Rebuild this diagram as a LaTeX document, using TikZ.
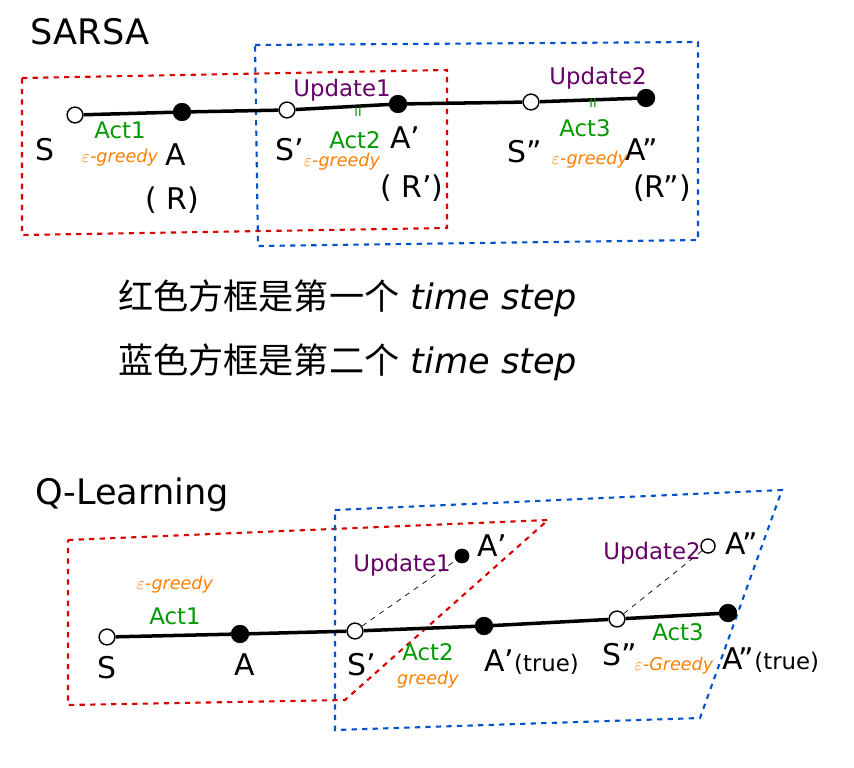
\documentclass[tikz,border=0pt]{standalone}
\usepackage{fontspec}
\setmainfont{DejaVu Sans}
\newfontfamily\cjk{Noto Sans CJK SC}
\usepackage{xcolor}
\colorlet{colorAct}{green!60!black}
\colorlet{colorGreedy}{orange}
\colorlet{colorUpdate}{violet!80!black}
\colorlet{colorRed}{red!85!black}
\colorlet{colorBlue}{blue!60!cyan!80!black}
\usetikzlibrary{positioning}
\tikzset{
  open/.style={circle, draw, thick, fill=white, inner sep=0pt, minimum size=9pt},
  full/.style={circle, draw, fill=black, inner sep=0pt, minimum size=10pt},
  lbl/.style={font=\fontsize{17}{17}\selectfont},
  act/.style={text=colorAct, font=\fontsize{13}{13}\selectfont},
  greedy/.style={text=colorGreedy, font=\fontsize{10}{10}\selectfont\itshape},
  upd/.style={text=colorUpdate, font=\fontsize{13}{13}\selectfont},
  redbox/.style={colorRed, line width=1.2pt, dashed},
  bluebox/.style={colorBlue, line width=1.2pt, dashed},
  chain/.style={line width=2pt},
}
\begin{document}
\begin{tikzpicture}[x=0.02cm, y=-0.02cm]
\useasboundingbox (0,0) rectangle (854,767);
% SARSA
\node[font=\fontsize{20}{20}\selectfont] (t1) at (90,32) {SARSA};
\draw[redbox] (22,78) -- (447,70) -- (447,228) -- (22,235) -- cycle;
\draw[bluebox] (255,45) -- (698,42) -- (698,240) -- (258,246) -- cycle;
\node[open] (s) at (75,115) {};
\node[full] (a) at (182,112) {};
\node[open] (s1) at (287,110) {};
\node[full] (a1) at (398,104) {};
\node[open] (s2) at (531,102) {};
\node[full] (a2) at (646,98) {};
\draw[chain] (s) -- (a) -- (s1) -- (a1) -- (s2) -- (a2);
\node[lbl] (ls) at (45,150) {S};
\node[lbl] (la) at (176,155) {A};
\node[lbl] (lr) at (172,200) {( R)};
\node[lbl] (ls1) at (290,150) {S'};
\node[lbl] (la1) at (405,138) {A'};
\node[lbl] (lr1) at (412,188) {( R')};
\node[lbl] (ls2) at (525,152) {S''};
\node[lbl] (la2) at (642,150) {A''};
\node[lbl] (lr2) at (662,188) {(R'')};
\node[act] (act1) at (120,130) {Act1};
\node[greedy] (g1) at (120,158) {$\varepsilon$-greedy};
\node[act] (act2) at (355,140) {Act2};
\node[greedy] (g2) at (342,162) {$\varepsilon$-greedy};
\node[act] (act3) at (585,128) {Act3};
\node[greedy] (g3) at (590,160) {$\varepsilon$-greedy};
\node[upd] (u1) at (342,90) {Update1};
\node[upd] (u2) at (598,78) {Update2};
\node[text=colorAct, font=\scriptsize] (e1) at (358,112) {II};
\node[text=colorAct, font=\scriptsize] (e2) at (593,103) {II};
% legend
\node[anchor=west, font=\fontsize{20}{20}\selectfont] (note1) at (112,298) {{\cjk 红色方框是第一个} \itshape time step};
\node[anchor=west, font=\fontsize{20}{20}\selectfont] (note2) at (112,362) {{\cjk 蓝色方框是第二个} \itshape time step};
% Q-Learning
\node[font=\fontsize{20}{20}\selectfont] (t2) at (132,495) {Q-Learning};
\draw[redbox] (68,540) -- (548,520) -- (345,700) -- (68,705) -- cycle;
\draw[bluebox] (335,510) -- (782,490) -- (700,718) -- (335,730) -- cycle;
\node[open] (qs) at (107,637) {};
\node[full] (qa) at (240,634) {};
\node[open] (qs1) at (355,631) {};
\node[full] (qa1) at (484,626) {};
\node[open] (qs2) at (617,619) {};
\node[full] (qa2) at (728,613) {};
\node[full, minimum size=8pt] (qb1) at (462,556) {};
\node[open, minimum size=8pt] (qb2) at (708,546) {};
\draw[chain] (qs) -- (qa) -- (qs1) -- (qa1) -- (qs2) -- (qa2);
\draw[dashed] (qs1) -- (qb1);
\draw[dashed] (qs2) -- (qb2);
\node[lbl] (qls) at (107,668) {S};
\node[lbl] (qla) at (245,665) {A};
\node[lbl] (qls1) at (362,665) {S'};
\node[lbl, anchor=west] (qla1) at (478,662) {A'\fontsize{13}{13}\selectfont(true)};
\node[lbl] (qls2) at (620,655) {S''};
\node[lbl, anchor=west] (qla2) at (716,660) {A''\fontsize{13}{13}\selectfont(true)};
\node[lbl] (qlb1) at (492,546) {A'};
\node[lbl] (qlb2) at (742,544) {A''};
\node[greedy] (qg1) at (175,585) {$\varepsilon$-greedy};
\node[act] (qact1) at (175,616) {Act1};
\node[upd] (qu1) at (402,565) {Update1};
\node[upd] (qu2) at (652,553) {Update2};
\node[act] (qact2) at (428,652) {Act2};
\node[greedy] (qg2) at (428,680) {greedy};
\node[act] (qact3) at (678,632) {Act3};
\node[greedy] (qg3) at (674,666) {$\varepsilon$-Greedy};
\end{tikzpicture}
\end{document}
